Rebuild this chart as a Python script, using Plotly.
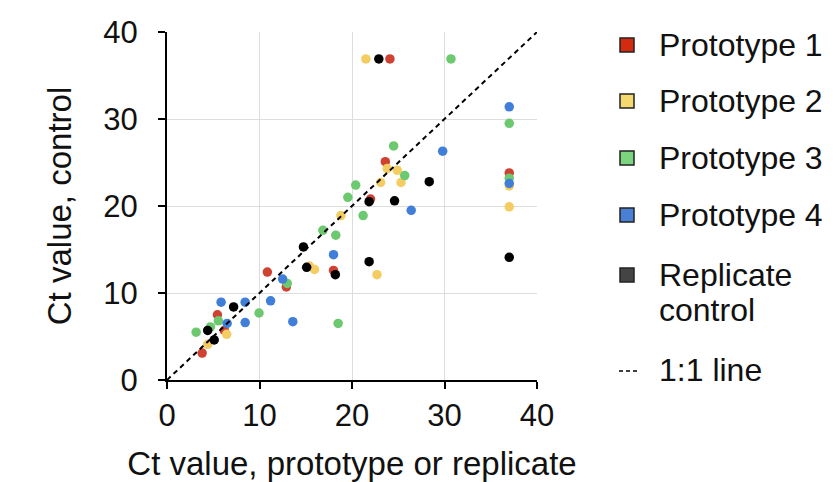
import plotly.graph_objects as go

# ---- data ----
p1_x = [3.8, 5.45, 6.2, 10.85, 12.9, 18.0, 22.0, 23.6, 24.1, 37.0]
p1_y = [3.1, 7.5, 5.7, 12.4, 10.7, 12.6, 20.8, 25.1, 36.9, 23.8]

p2_x = [4.4, 6.45, 15.4, 15.95, 18.8, 21.5, 22.7, 23.1, 23.8, 24.9, 25.3, 37.0, 37.0]
p2_y = [4.1, 5.25, 13.1, 12.7, 18.9, 36.9, 12.1, 22.7, 24.3, 24.1, 22.7, 22.3, 19.9]

p3_x = [3.15, 4.7, 5.55, 9.95, 13.0, 16.85, 18.25, 18.5, 19.55, 20.4, 21.2, 24.5, 25.7, 30.7, 37.0, 37.0]
p3_y = [5.5, 6.1, 6.8, 7.7, 11.1, 17.2, 16.65, 6.5, 21.0, 22.4, 18.9, 26.9, 23.5, 36.9, 29.5, 23.2]

p4_x = [5.85, 6.5, 8.45, 8.45, 11.2, 12.5, 13.6, 18.0, 26.4, 29.8, 37.0, 37.0]
p4_y = [8.95, 6.5, 8.95, 6.6, 9.1, 11.6, 6.7, 14.4, 19.5, 26.3, 31.4, 22.6]

rep_x = [4.4, 5.1, 7.2, 14.75, 15.1, 18.2, 21.85, 21.85, 22.9, 24.6, 28.35, 37.0]
rep_y = [5.7, 4.6, 8.4, 15.3, 12.95, 12.1, 13.6, 20.5, 36.9, 20.6, 22.8, 14.1]

line_x = [0, 40]
line_y = [0, 40]

series_names = ["Prototype 1", "Prototype 2", "Prototype 3", "Prototype 4", "Replicate control"]
legend_labels = [["Prototype 1"], ["Prototype 2"], ["Prototype 3"], ["Prototype 4"],
                 ["Replicate", "control"], ["1:1 line"]]
x_ticks = [0, 10, 20, 30, 40]
y_ticks = [0, 10, 20, 30, 40]

point_colors = ["#cf4130", "#f4cd62", "#6cc96f", "#3f7fd8", "#000000"]
legend_colors = ["#d42b10", "#f6d870", "#7bd47e", "#4a80d4", "#444444"]

FONT = "Liberation Sans, Arial, sans-serif"

# The page body has an 8px margin, so the figure is drawn 8px in from the top-left.
OFF = 8
W, H = 837 - OFF, 482 - OFF
ML, MR, MT, MB = 167 - OFF, 300, 32 - OFF, 102
PW, PH = W - ML - MR, H - MT - MB


def px(xp):  # page pixel x -> paper x
    return (xp - OFF - ML) / PW


def py(yp):  # page pixel y -> paper y
    return (H - MB - (yp - OFF)) / PH


fig = go.Figure()

series = [(p1_x, p1_y), (p2_x, p2_y), (p3_x, p3_y), (p4_x, p4_y), (rep_x, rep_y)]
for i, ((xs, ys), name) in enumerate(zip(series, series_names)):
    fig.add_trace(go.Scatter(
        x=xs, y=ys, mode="markers", name=name, showlegend=False,
        marker=dict(color=point_colors[i], size=9.5, line=dict(width=0)),
    ))

fig.add_trace(go.Scatter(
    x=line_x, y=line_y, mode="lines", name="1:1 line", showlegend=False,
    line=dict(color="black", width=2, dash="5px,4px"),
))

# ---- manual legend (squares + text) ----
item_centers = [45, 101, 158, 215, 275, 370]
sq = 14
text_x = 657
for i, yc in enumerate(item_centers):
    if i < 5:
        fig.add_shape(type="rect", xref="paper", yref="paper",
                      x0=px(620), x1=px(620 + sq), y0=py(yc + sq / 2), y1=py(yc - sq / 2),
                      fillcolor=legend_colors[i], line=dict(color="#222222", width=1.5))
    else:
        fig.add_shape(type="line", xref="paper", yref="paper",
                      x0=px(619), x1=px(638), y0=py(yc + 1), y1=py(yc + 1),
                      line=dict(color="black", width=1.5, dash="4px,3px"))
    for j, lab in enumerate(legend_labels[i]):
        fig.add_annotation(text=lab, xref="paper", yref="paper",
                           x=px(text_x), y=py(yc + 35 * j), xanchor="left", yanchor="middle",
                           showarrow=False,
                           font=dict(family=FONT, size=32, color="#111111"))

axis_common = dict(
    range=[0, 40], showgrid=True, gridcolor="#dddddd", gridwidth=1,
    showline=True, linecolor="black", linewidth=2,
    ticks="outside", ticklen=7, tickwidth=2, tickcolor="black",
    tickfont=dict(family=FONT, size=31, color="#111111"),
    zeroline=False, fixedrange=True, automargin=False,
)

fig.update_layout(
    width=W, height=H,
    margin=dict(l=ML, r=MR, t=MT, b=MB, autoexpand=False),
    paper_bgcolor="white", plot_bgcolor="white",
    font=dict(family=FONT, color="#111111"),
    xaxis=dict(**axis_common, tickvals=x_ticks,
               title=dict(text="Ct value, prototype or replicate",
                          font=dict(family=FONT, size=33), standoff=25)),
    yaxis=dict(**axis_common, tickvals=y_ticks, ticklabelstandoff=14,
               title=dict(text="Ct value, control",
                          font=dict(family=FONT, size=33), standoff=22)),
    showlegend=False,
)

fig.write_html("out.html")
